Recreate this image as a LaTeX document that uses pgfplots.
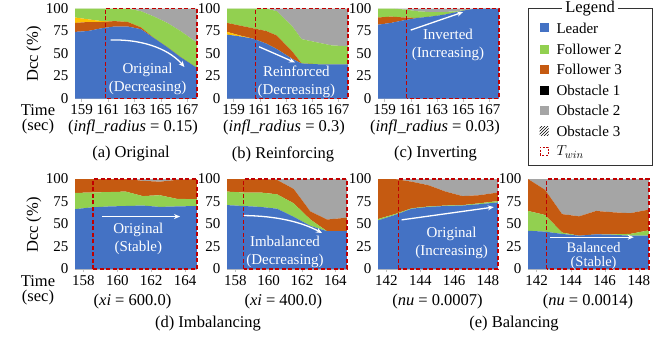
\documentclass[border=0pt]{standalone}
\usepackage{fontspec}
\setmainfont{Liberation Serif}
\usepackage{pgfplots}
\pgfplotsset{compat=1.18}
\usetikzlibrary{arrows.meta,patterns}
\definecolor{cLead}{HTML}{4472C4}
\definecolor{cF2}{HTML}{92D050}
\definecolor{cF3}{HTML}{C55A11}
\definecolor{cYel}{HTML}{FFC000}
\definecolor{cGray}{HTML}{A5A5A5}
\definecolor{twin}{HTML}{C00000}
\newcommand\fs{\fontsize{15}{18}\selectfont}
\newcommand\fc{\fontsize{16.5}{19}\selectfont}
\tikzset{
  ann/.style={text=white, align=center, font=\fs},
  arr/.style={white, line width=1.3pt, -{Stealth[length=6pt,width=5pt]}},
  box/.style={twin, line width=1.3pt, dash pattern=on 4pt off 2.5pt}
}
\pgfplotsset{
  sub/.style={scale only axis, height=90pt, anchor=south west,
    stack plots=y, ymin=0, ymax=100, ytick={0,25,50,75,100},
    axis x line*=bottom, axis y line*=left,
    y axis line style={draw=none}, ytick style={draw=none},
    x axis line style={black!25}, xtick style={black!25},
    tick align=outside, major tick length=3pt,
    enlargelimits=false, clip=false,
    tick label style={font=\fs},
    /pgf/number format/assume math mode=true,
    /pgf/number format/1000 sep={}},
  ov/.style={scale only axis, height=90pt, anchor=south west,
    ymin=0, ymax=100, hide axis, clip=false, enlargelimits=false},
  top/.style={sub, xmin=158.5, xmax=167.75, xtick={159,161,163,165,167}},
  topo/.style={ov, xmin=158.5, xmax=167.75},
  botd/.style={sub, xmin=157.5, xmax=164.7, xtick={158,160,162,164}},
  botdo/.style={ov, xmin=157.5, xmax=164.7},
  bote/.style={sub, xmin=141.5, xmax=148.6, xtick={142,144,146,148}},
  boteo/.style={ov, xmin=141.5, xmax=148.6}
}
\begin{document}
\begin{tikzpicture}[x=1pt,y=1pt]
\useasboundingbox (0,0) rectangle (672,341);

% (a) Original
\begin{axis}[top, at={(75pt,242.5pt)}, width=122pt]
\addplot[fill=cLead, draw=none] coordinates {(158.5,74)(159.5,75)(160.5,78)(161.5,80)(162.5,80)(163.5,77)(164.5,67)(165.5,57)(166.5,46)(167.75,34)} \closedcycle;
\addplot[fill=cF3, draw=none] coordinates {(158.5,10)(159.5,10)(160.5,7)(161.5,6)(162.5,5)(163.5,2)(164.5,0)(165.5,0)(166.5,0)(167.75,0)} \closedcycle;
\addplot[fill=cYel, draw=none] coordinates {(158.5,6)(159.5,3)(160.5,1)(161.5,0)(162.5,0)(163.5,0)(164.5,0)(165.5,0)(166.5,0)(167.75,0)} \closedcycle;
\addplot[fill=cF2, draw=none] coordinates {(158.5,10)(159.5,12)(160.5,14)(161.5,14)(162.5,15)(163.5,18)(164.5,24)(165.5,27)(166.5,29)(167.75,28)} \closedcycle;
\addplot[fill=cGray, draw=none] coordinates {(158.5,0)(159.5,0)(160.5,0)(161.5,0)(162.5,0)(163.5,3)(164.5,9)(165.5,16)(166.5,25)(167.75,38)} \closedcycle;
\end{axis}
\begin{axis}[topo, at={(75pt,242.5pt)}, width=122pt]
\draw[box] (axis cs:160.8,0) rectangle (axis cs:167.75,100);
\node[ann] at (axis cs:164,22) {Original\\(Decreasing)};
\draw[arr] (axis cs:161.2,65) .. controls (axis cs:164,66) and (axis cs:165.8,52) .. (axis cs:166.8,35);
\end{axis}

% (b) Reinforcing
\begin{axis}[top, at={(227pt,242.5pt)}, width=121pt]
\addplot[fill=cLead, draw=none] coordinates {(158.5,71)(159.5,69)(160.5,66.5)(161.5,61)(162.3,55)(163.5,44)(164.2,39)(165.5,38)(166.5,38)(167.75,38)} \closedcycle;
\addplot[fill=cYel, draw=none] coordinates {(158.5,3)(159.5,1)(160.5,0)(161.5,0)(162.3,0)(163.5,0)(164.2,0)(165.5,0)(166.5,0)(167.75,0)} \closedcycle;
\addplot[fill=cF3, draw=none] coordinates {(158.5,10)(159.5,11)(160.5,11.5)(161.5,14)(162.3,15)(163.5,8)(164.2,0)(165.5,0)(166.5,0)(167.75,0)} \closedcycle;
\addplot[fill=cF2, draw=none] coordinates {(158.5,16)(159.5,19)(160.5,22)(161.5,25)(162.3,27)(163.5,28)(164.2,27)(165.5,24)(166.5,21)(167.75,20)} \closedcycle;
\addplot[fill=cGray, draw=none] coordinates {(158.5,0)(159.5,0)(160.5,0)(161.5,0)(162.3,3)(163.5,20)(164.2,34)(165.5,38)(166.5,41)(167.75,42)} \closedcycle;
\end{axis}
\begin{axis}[topo, at={(227pt,242.5pt)}, width=121pt]
\draw[box] (axis cs:160.7,0) rectangle (axis cs:167.75,100);
\node[ann] at (axis cs:163.8,18.5) {Reinforced\\(Decreasing)};
\draw[arr] (axis cs:160.95,57.5) -- (axis cs:163.7,40);
\end{axis}

% (c) Inverting
\begin{axis}[top, at={(378pt,242.5pt)}, width=121pt]
\addplot[fill=cLead, draw=none] coordinates {(158.5,82)(159.5,84)(160.5,87)(161.5,89.5)(162.5,91)(163.5,93)(164.5,96)(165.5,99)(166.5,100)(167.75,100)} \closedcycle;
\addplot[fill=cF3, draw=none] coordinates {(158.5,8)(159.5,7)(160.5,3)(161.5,0)(162.5,0)(163.5,0)(164.5,0)(165.5,0)(166.5,0)(167.75,0)} \closedcycle;
\addplot[fill=cF2, draw=none] coordinates {(158.5,10)(159.5,9)(160.5,9)(161.5,7.5)(162.5,5)(163.5,3)(164.5,1)(165.5,0)(166.5,0)(167.75,0)} \closedcycle;
\addplot[fill=cGray, draw=none] coordinates {(158.5,0)(159.5,0)(160.5,1)(161.5,3)(162.5,4)(163.5,4)(164.5,3)(165.5,1)(166.5,0)(167.75,0)} \closedcycle;
\end{axis}
\begin{axis}[topo, at={(378pt,242.5pt)}, width=121pt]
\draw[box] (axis cs:160.7,0) rectangle (axis cs:167.75,100);
\node[ann] at (axis cs:163.85,59) {Inverted\\(Increasing)};
\draw[arr] (axis cs:161.0,76) -- (axis cs:165.0,96);
\end{axis}

% (d) xi = 600
\begin{axis}[botd, at={(75pt,72pt)}, width=122pt]
\addplot[fill=cLead, draw=none] coordinates {(157.5,66.5)(158.5,68.5)(159.5,69.5)(160.5,70)(161.5,70.5)(162.5,69)(163.5,69.5)(164.7,70)} \closedcycle;
\addplot[fill=cF2, draw=none] coordinates {(157.5,18)(158.5,16.5)(159.5,16)(160.5,16)(161.5,10.5)(162.5,13)(163.5,8.5)(164.7,7.5)} \closedcycle;
\addplot[fill=cF3, draw=none] coordinates {(157.5,15.5)(158.5,15)(159.5,14.5)(160.5,14)(161.5,17)(162.5,15)(163.5,21)(164.7,22.5)} \closedcycle;
\addplot[fill=cGray, draw=none] coordinates {(157.5,0)(158.5,0)(159.5,0)(160.5,0)(161.5,2)(162.5,3)(163.5,1)(164.7,0)} \closedcycle;
\end{axis}
\begin{axis}[botdo, at={(75pt,72pt)}, width=122pt]
\draw[box] (axis cs:158.57,0) rectangle (axis cs:164.7,100);
\node[ann] at (axis cs:161.24,34) {Original\\(Stable)};
\draw[arr] (axis cs:159.1,58.3) -- (axis cs:163.7,58.3);
\end{axis}

% (d) xi = 400
\begin{axis}[botd, at={(227pt,72pt)}, width=120pt]
\addplot[fill=cLead, draw=none] coordinates {(157.5,71)(158.5,70)(159.5,69)(160.5,67)(161.5,58)(162.5,48)(163.5,42)(164.7,42)} \closedcycle;
\addplot[fill=cF2, draw=none] coordinates {(157.5,15)(158.5,15)(159.5,16)(160.5,16)(161.5,15)(162.5,7)(163.5,0)(164.7,0)} \closedcycle;
\addplot[fill=cF3, draw=none] coordinates {(157.5,14)(158.5,15)(159.5,15)(160.5,16)(161.5,16)(162.5,9)(163.5,13)(164.7,15)} \closedcycle;
\addplot[fill=cGray, draw=none] coordinates {(157.5,0)(158.5,0)(159.5,0)(160.5,1)(161.5,11)(162.5,36)(163.5,45)(164.7,43)} \closedcycle;
\end{axis}
\begin{axis}[botdo, at={(227pt,72pt)}, width=120pt]
\draw[box] (axis cs:158.5,0) rectangle (axis cs:164.7,100);
\node[ann] at (axis cs:160.98,19.3) {Imbalanced\\(Decreasing)};
\draw[arr] (axis cs:158.5,59.4) .. controls (axis cs:160.5,59) and (axis cs:162,52) .. (axis cs:163.2,40);
\end{axis}

% (e) nu = 0.0007
\begin{axis}[bote, at={(378pt,72pt)}, width=120pt]
\addplot[fill=cLead, draw=none] coordinates {(141.5,54)(142.5,60)(143.5,67)(144.5,69)(145.5,70)(146.5,70.5)(147.5,72)(148.6,74)} \closedcycle;
\addplot[fill=cF2, draw=none] coordinates {(141.5,1.5)(142.5,1)(143.5,0.5)(144.5,0.5)(145.5,0.5)(146.5,0.5)(147.5,1)(148.6,1.5)} \closedcycle;
\addplot[fill=cF3, draw=none] coordinates {(141.5,44.5)(142.5,39)(143.5,29.5)(144.5,23.5)(145.5,15.5)(146.5,10)(147.5,9)(148.6,9.5)} \closedcycle;
\addplot[fill=cGray, draw=none] coordinates {(141.5,0)(142.5,0)(143.5,3)(144.5,7)(145.5,14)(146.5,19)(147.5,18)(148.6,15)} \closedcycle;
\end{axis}
\begin{axis}[boteo, at={(378pt,72pt)}, width=120pt]
\draw[box] (axis cs:142.7,0) rectangle (axis cs:148.6,100);
\node[ann] at (axis cs:145.85,29) {Original\\(Increasing)};
\draw[arr] (axis cs:142.9,54.6) -- (axis cs:148.35,68.8);
\end{axis}

% (e) nu = 0.0014
\begin{axis}[bote, at={(528pt,72pt)}, width=121pt]
\addplot[fill=cLead, draw=none] coordinates {(141.5,42.5)(142.5,41.5)(143.5,39)(144.5,37)(145.5,38.5)(146.5,38)(147.5,37)(148.6,37)} \closedcycle;
\addplot[fill=cF2, draw=none] coordinates {(141.5,22)(142.5,18.5)(143.5,1.5)(144.5,0)(145.5,0)(146.5,0.5)(147.5,2)(148.6,6)} \closedcycle;
\addplot[fill=cF3, draw=none] coordinates {(141.5,35.5)(142.5,28)(143.5,20.5)(144.5,21.5)(145.5,26)(146.5,24.5)(147.5,23)(148.6,23)} \closedcycle;
\addplot[fill=cGray, draw=none] coordinates {(141.5,0)(142.5,12)(143.5,39)(144.5,41.5)(145.5,35.5)(146.5,37)(147.5,38)(148.6,34)} \closedcycle;
\end{axis}
\begin{axis}[boteo, at={(528pt,72pt)}, width=121pt]
\draw[box] (axis cs:142.6,0) rectangle (axis cs:148.6,100);
\node[text=white, align=center, font=\fontsize{14.5}{14.5}\selectfont, inner sep=1pt] at (axis cs:145.35,14.5) {Balanced\\(Stable)};
\draw[arr] (axis cs:142.8,35.3) -- (axis cs:147.7,35.3);
\end{axis}

% side labels
\node[rotate=90, font=\fc] at (34,287) {Dcc (\%)};
\node[rotate=90, font=\fc] at (34,116) {Dcc (\%)};
\node[font=\fc] at (38,231) {Time};
\node[font=\fc] at (38,214.5) {(sec)};
\node[font=\fc] at (38,60) {Time};
\node[font=\fc] at (38,43.5) {(sec)};

% parameters
\node[font=\fc] at (133,214) {(\textit{infl\_radius} = 0.15)};
\node[font=\fc] at (284,214) {(\textit{infl\_radius} = 0.3)};
\node[font=\fc] at (435,214) {(\textit{infl\_radius} = 0.03)};
\node[font=\fc] at (132.5,39.5) {(\textit{xi} = 600.0)};
\node[font=\fc] at (283.3,39.5) {(\textit{xi} = 400.0)};
\node[font=\fc] at (437.5,39.5) {(\textit{nu} = 0.0007)};
\node[font=\fc] at (588,39.5) {(\textit{nu} = 0.0014)};

% captions
\node[font=\fc] at (131,187) {(a) Original};
\node[font=\fc] at (283,187) {(b) Reinforcing};
\node[font=\fc] at (435.5,187) {(c) Inverting};
\node[font=\fc] at (208,17) {(d) Imbalancing};
\node[font=\fc] at (514,17) {(e) Balancing};

% legend
\draw[black!80, line width=0.8pt] (528,333) rectangle (652,176);
\node[font=\fc, fill=white, inner xsep=3pt, inner ysep=0pt] at (590,332.5) {Legend};
\fill[cLead] (539.5,308.5) rectangle ++(9,9);
\fill[cF2] (539.5,287.5) rectangle ++(9,9);
\fill[cF3] (539.5,267.5) rectangle ++(9,9);
\fill[black] (539.5,246.5) rectangle ++(9,9);
\fill[cGray] (539.5,226.5) rectangle ++(9,9);
\fill[pattern=north east lines] (539.5,205.5) rectangle ++(9,9);
\draw[twin, line width=0.8pt, dash pattern=on 2pt off 1.5pt] (540,186) rectangle ++(8,8);
\node[font=\fs, anchor=west] at (553,313) {Leader};
\node[font=\fs, anchor=west] at (553,292) {Follower 2};
\node[font=\fs, anchor=west] at (553,272) {Follower 3};
\node[font=\fs, anchor=west] at (553,251) {Obstacle 1};
\node[font=\fs, anchor=west] at (553,231) {Obstacle 2};
\node[font=\fs, anchor=west] at (553,210) {Obstacle 3};
\node[font=\fs, anchor=west] at (553,189) {$T_{win}$};
\end{tikzpicture}
\end{document}
